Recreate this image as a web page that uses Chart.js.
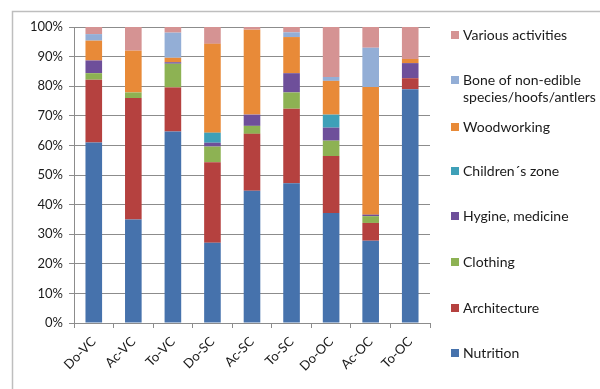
<!DOCTYPE html>
<html>
<head>
<meta charset="utf-8">
<script src="https://cdn.jsdelivr.net/npm/chart.js@4/dist/chart.umd.min.js"></script>
<style>
  html, body { margin: 0; padding: 0; background: #ffffff; }
  #wrap { width: 600px; height: 389px; position: relative; }
</style>
</head>
<body>
<div id="wrap"><canvas id="c" width="600" height="389"></canvas></div>
<script>
// Sites / contexts on the x axis
const categories = ['Do-VC', 'Ac-VC', 'To-VC', 'Do-SC', 'Ac-SC', 'To-SC', 'Do-OC', 'Ac-OC', 'To-OC'];

// Share (%) of each activity group per context, bottom to top of the stack
const nutrition    = [61.0, 35.0, 64.7, 27.1, 44.7, 47.2, 37.2, 27.8, 79.0];
const architecture = [21.2, 41.0, 14.9, 27.2, 19.2, 25.2, 19.2,  6.0,  3.7];
const clothing     = [ 2.2,  1.9,  8.0,  5.3,  2.7,  5.5,  5.2,  2.3,  0.0];
const hygiene      = [ 4.3,  0.0,  0.5,  1.3,  3.8,  6.5,  4.4,  0.5,  5.1];
const childrenZone = [ 0.0,  0.0,  0.0,  3.4,  0.0,  0.0,  4.4,  0.0,  0.0];
const woodworking  = [ 6.7, 14.1,  1.5, 30.0, 28.7, 12.2, 11.4, 43.1,  1.4];
const boneNonEdible= [ 2.2,  0.0,  8.5,  0.0,  0.0,  1.6,  1.3, 13.3,  0.0];
const various      = [ 2.4,  8.0,  2.0,  5.7,  0.9,  1.8, 16.9,  7.0, 10.8];

const yTicks = [0, 10, 20, 30, 40, 50, 60, 70, 80, 90, 100];

const FONT = 'Lato, "Open Sans", sans-serif';

const series = [
  { label: 'Nutrition', data: nutrition, color: '#4672AC' },
  { label: 'Architecture', data: architecture, color: '#B5413F' },
  { label: 'Clothing', data: clothing, color: '#8DB253' },
  { label: 'Hygine, medicine', data: hygiene, color: '#6E4F9A' },
  { label: 'Children\u00b4s zone', data: childrenZone, color: '#3EA0B8' },
  { label: 'Woodworking', data: woodworking, color: '#E88A38' },
  { label: 'Bone of non-edible\nspecies/hoofs/antlers', data: boneNonEdible, color: '#93AED6' },
  { label: 'Various activities', data: various, color: '#D59393' }
];

// Frame around the whole figure (left and top edges)
const framePlugin = {
  id: 'frame',
  beforeDraw(chart) {
    const ctx = chart.ctx;
    ctx.save();
    ctx.strokeStyle = '#BEBEBE';
    ctx.lineWidth = 1.5;
    ctx.beginPath();
    ctx.moveTo(12.5, 389);
    ctx.lineTo(12.5, 11.5);
    ctx.lineTo(600, 11.5);
    ctx.stroke();
    ctx.restore();
  }
};

// Legend on the right, listed top to bottom in reverse stacking order
const sideLegend = {
  id: 'sideLegend',
  afterDraw(chart) {
    const ctx = chart.ctx;
    const ds = chart.data.datasets;
    const ys = [35, 80, 127, 171, 216, 262, 308, 353];
    ctx.save();
    ctx.font = '14px ' + FONT;
    ctx.textBaseline = 'middle';
    for (let k = 0; k < ds.length; k++) {
      const d = ds[ds.length - 1 - k];
      const y = ys[k];
      ctx.fillStyle = d.backgroundColor;
      ctx.fillRect(451, y - 4, 8, 8);
      ctx.fillStyle = '#1a1a1a';
      const lines = d.label.split('\n');
      lines.forEach((ln, i) => ctx.fillText(ln, 463, y + i * 17));
    }
    ctx.restore();
  }
};

new Chart(document.getElementById('c'), {
  type: 'bar',
  data: {
    labels: categories,
    datasets: series.map(s => ({
      label: s.label,
      data: s.data,
      backgroundColor: s.color,
      borderWidth: 0,
      barPercentage: 0.42,
      categoryPercentage: 1.0
    }))
  },
  options: {
    responsive: false,
    animation: false,
    devicePixelRatio: 1,
    layout: { padding: { left: 12, right: 170, top: 27, bottom: 0 } },
    plugins: {
      legend: { display: false },
      tooltip: { enabled: false }
    },
    scales: {
      x: {
        stacked: true,
        grid: {
          display: true,
          drawOnChartArea: false,
          offset: true,
          color: '#8c8c8c',
          tickLength: 5
        },
        border: { color: '#8c8c8c', width: 1 },
        ticks: {
          color: '#1a1a1a',
          font: { family: FONT, size: 13 },
          minRotation: 45,
          maxRotation: 45,
          padding: 6
        },
        afterFit(scale) { scale.height = 66; }
      },
      y: {
        stacked: true,
        min: 0,
        max: 100,
        afterBuildTicks(scale) { scale.ticks = yTicks.map(v => ({ value: v })); },
        grid: {
          color: '#8c8c8c',
          tickLength: 5
        },
        border: { color: '#8c8c8c', width: 1 },
        ticks: {
          color: '#1a1a1a',
          font: { family: FONT, size: 13 },
          padding: 6,
          callback: v => v + '%'
        },
        afterFit(scale) { scale.width = 62; }
      }
    }
  },
  plugins: [framePlugin, sideLegend]
});
</script>
</body>
</html>
